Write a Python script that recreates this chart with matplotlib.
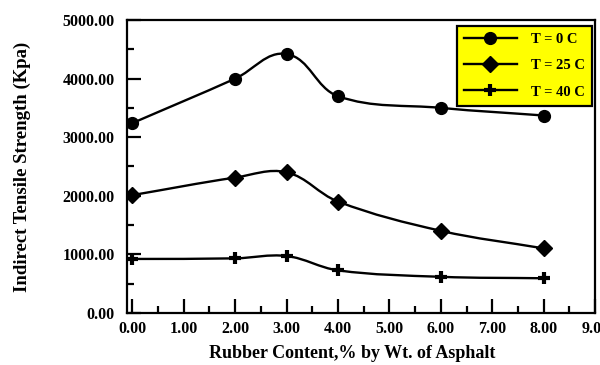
import numpy as np
import matplotlib
matplotlib.use("Agg")
import matplotlib.pyplot as plt
from matplotlib.path import Path
from matplotlib.patches import PathPatch
from matplotlib.lines import Line2D
from matplotlib.ticker import MultipleLocator, FormatStrFormatter

plt.rcParams['font.family'] = ['Liberation Serif', 'DejaVu Serif']
plt.rcParams['font.weight'] = 'bold'

# rubber content (% by wt. of asphalt)
rubber = [0, 2, 3, 4, 6, 8]

# indirect tensile strength (Kpa) at each temperature
its_t0 = [3240, 4000, 4420, 3700, 3500, 3370]
its_t25 = [2010, 2310, 2400, 1900, 1400, 1100]
its_t40 = [920, 930, 970, 725, 615, 590]

labels = ["T = 0 C", "T = 25 C", "T = 40 C"]
markers = ["o", "D", "+"]


def smooth_path(ax, xs, ys, k=0.36):
    # smoothed line like a spreadsheet chart: bezier segments built in pixel space
    tr = ax.transData
    pts = tr.transform(np.column_stack([xs, ys]).astype(float))
    n = len(pts)
    verts = [pts[0]]
    codes = [Path.MOVETO]
    for i in range(n - 1):
        p0 = pts[max(i - 1, 0)]
        p1 = pts[i]
        p2 = pts[i + 1]
        p3 = pts[min(i + 2, n - 1)]
        chord = np.hypot(*(p2 - p1))
        d1 = (p2 - p0) / np.hypot(*(p2 - p0))
        d2 = (p3 - p1) / np.hypot(*(p3 - p1))
        verts += [p1 + d1 * chord * k, p2 - d2 * chord * k, p2]
        codes += [Path.CURVE4] * 3
    verts = tr.inverted().transform(np.array(verts))
    return Path(verts, codes)


fig = plt.figure(figsize=(6, 3.65), dpi=100)
ax = fig.add_axes([0.212, 0.143, 0.78, 0.802])
ax.set_xlim(-0.1, 9)
ax.set_ylim(0, 5000)

handles = []
for ys, mk, lab in zip([its_t0, its_t25, its_t40], markers, labels):
    ax.add_patch(PathPatch(smooth_path(ax, rubber, ys), facecolor='none',
                           edgecolor='black', lw=1.7, zorder=2))
    if mk == "+":
        style = dict(marker='+', ms=8.5, mew=3)
    elif mk == "o":
        style = dict(marker='o', ms=8.5)
    else:
        style = dict(marker='D', ms=8)
    ax.plot(rubber, ys, linestyle='none', color='black', zorder=3, **style)
    handles.append(Line2D([], [], color='black', lw=1.7, **style))

ax.xaxis.set_major_locator(MultipleLocator(1))
ax.xaxis.set_minor_locator(MultipleLocator(0.5))
ax.yaxis.set_major_locator(MultipleLocator(1000))
ax.yaxis.set_minor_locator(MultipleLocator(500))
ax.xaxis.set_major_formatter(FormatStrFormatter('%.2f'))
ax.yaxis.set_major_formatter(FormatStrFormatter('%.2f'))
ax.tick_params(which='both', direction='in', width=1.6, top=False, right=False)
ax.tick_params(which='major', length=10, labelsize=11.5)
ax.tick_params(axis='x', which='major', pad=6)
ax.tick_params(axis='y', which='major', pad=9)
ax.tick_params(which='minor', length=5)
for s in ax.spines.values():
    s.set_linewidth(1.6)

ax.set_xlabel("Rubber Content,% by Wt. of Asphalt", fontsize=13,
              fontweight='bold', labelpad=6)
ax.xaxis.label.set_x(0.481)
ax.set_ylabel("Indirect Tensile Strength (Kpa)", fontsize=13.5,
              fontweight='bold', labelpad=23)

leg = ax.legend(handles, labels, loc='upper right', bbox_to_anchor=(0.994, 0.98),
                borderaxespad=0, fancybox=False, facecolor='yellow',
                edgecolor='black', framealpha=1, fontsize=10.5,
                handlelength=3.6, handletextpad=1.0, labelspacing=0.88,
                borderpad=0.5)
leg.get_frame().set_linewidth(1.6)

fig.savefig("out.png", dpi=100)
